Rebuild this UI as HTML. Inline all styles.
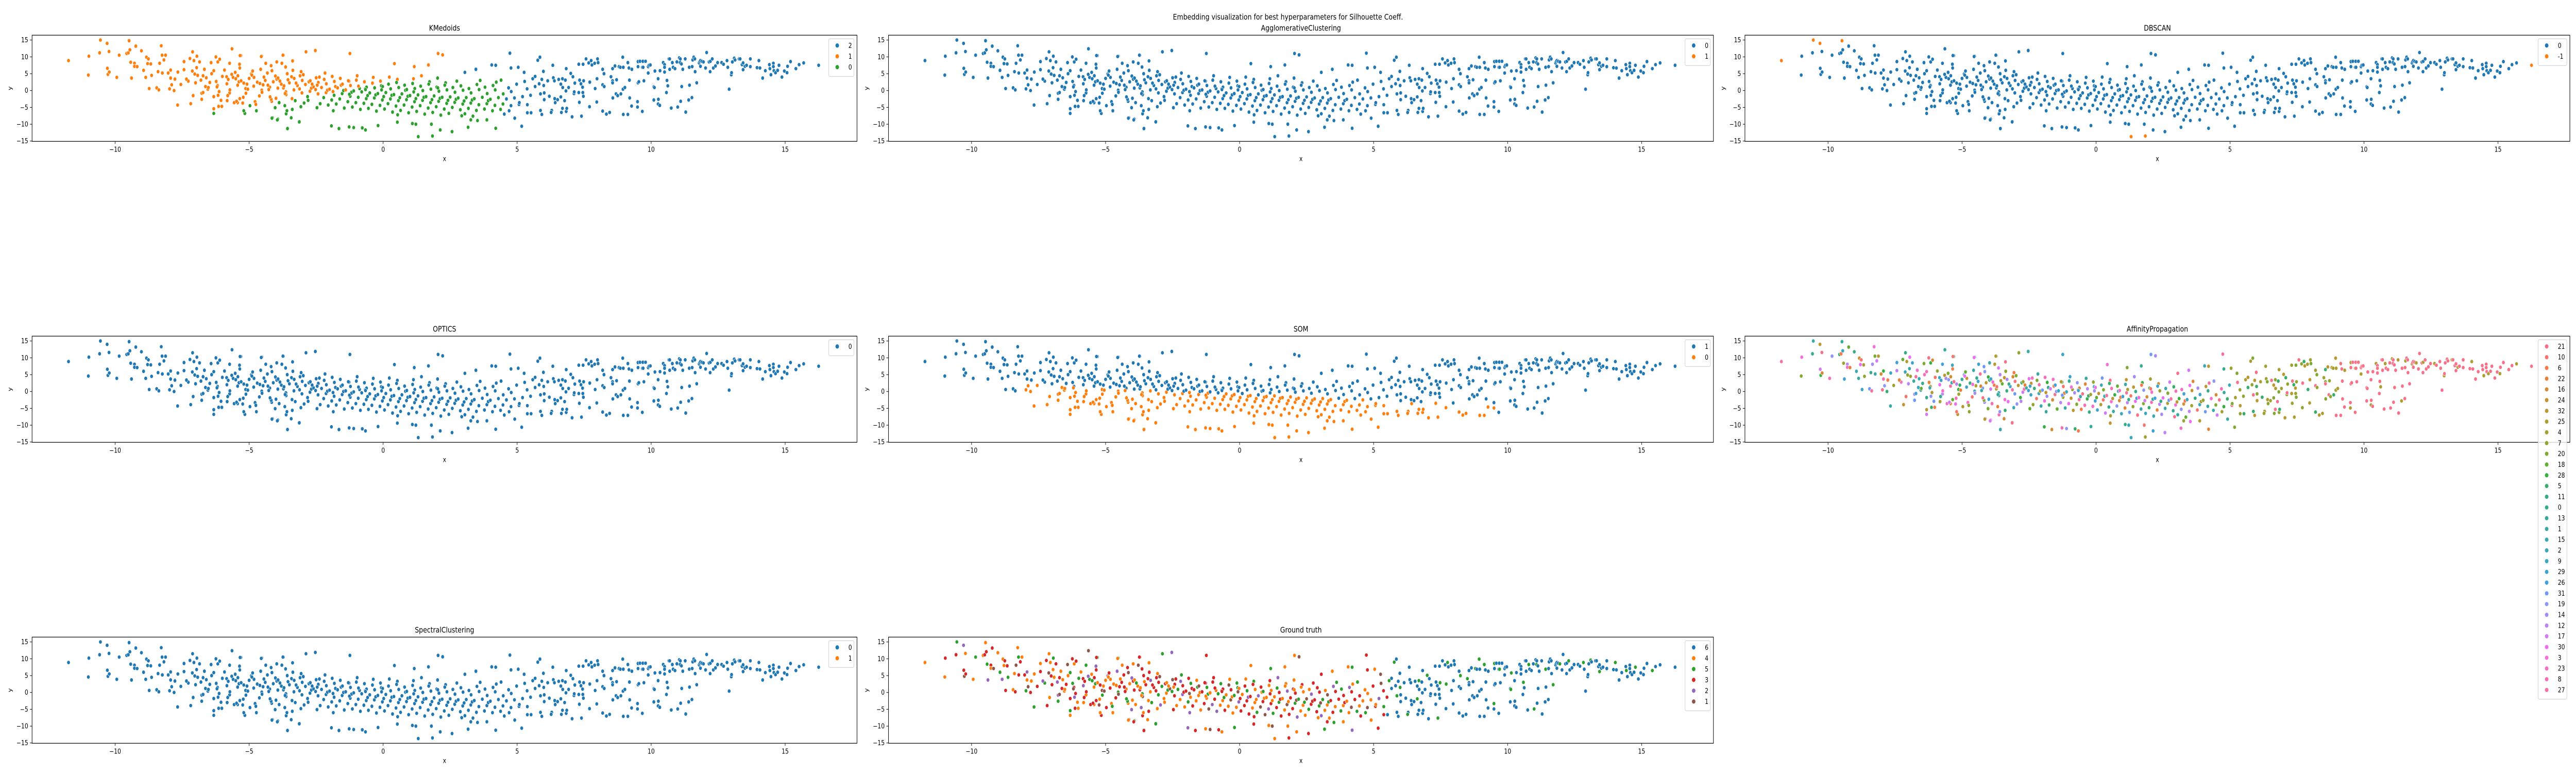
<!DOCTYPE html>
<html><head><meta charset="utf-8"><title>Embedding visualization</title>
<style>
html,body{margin:0;padding:0;background:#fff;overflow:hidden;width:100%;height:100%;}
svg{display:block;width:100vw;height:100vh;font-family:"DejaVu Sans","Liberation Sans",sans-serif;}
</style></head>
<body>
<svg id="fig" viewBox="0 0 6000 1500" preserveAspectRatio="none" xmlns="http://www.w3.org/2000/svg">
<rect width="6000" height="1500" fill="#fff"/>
<text x="3000" y="38" font-size="15" text-anchor="middle">Embedding visualization for best hyperparameters for Silhouette Coeff.</text>
</svg>
<script>
// ---- data ----
const pointsLeft = [[-11.74,8.9],[-10.98,10.2],[-11.0,4.6],[-10.58,11.2],[-10.55,15],[-10.3,14],[-10.29,6.6],[-10.23,11.6],[-10.27,4.8],[-10.22,5.5],[-9.94,3.9],[-9.85,10.5],[-9.57,11],[-9.51,11.2],[-9.48,14.8],[-9.45,12.1],[-9.42,8.4],[-9.39,3.7],[-9.28,8.1],[-9.28,7.2],[-9.18,7.1],[-9.23,13.2],[-9.02,11.8],[-8.94,6],[-8.83,9.9],[-8.76,9.4],[-8.79,8],[-8.67,7.9],[-8.64,4.5],[-8.86,3.9],[-8.73,0.6],[-8.45,0.8],[-8.34,8.1],[-8.37,0.2],[-8.28,13.3],[-8.25,10.5],[-8.4,5.6],[-8.24,5.2],[-8.12,10.5],[-8.18,9.1],[-7.97,0.5],[-7.93,6.1],[-8.02,5.2],[-7.93,3.7],[-7.89,1.7],[-7.8,0],[-7.77,3.4],[-7.67,-4.3],[-7.66,5.5],[-7.55,1.8],[-7.43,8.6],[-7.43,6.2],[-7.27,2.8],[-7.34,3.4],[-7.21,9.5],[-7.11,11.5],[-7.12,5.8],[-7.18,-3.9],[-7.09,-1.5],[-6.95,10.2],[-7.06,8.9],[-7.03,4.9],[-6.96,6.8],[-6.85,8.5],[-6.77,-2.6],[-6.77,-0.8],[-6.72,4.4],[-6.67,6.3],[-6.42,8.3],[-6.47,2.4],[-6.54,0.4],[-6.32,-5.4],[-6.32,-6.8],[-6.24,10],[-6.17,8.5],[-6.1,9.3],[-6.32,5.9],[-6.16,-1.4],[-6.14,-4.7],[-6.02,-4.7],[-5.64,12.4],[-5.84,4.1],[-5.82,-3],[-5.73,8.1],[-5.73,-0.7],[-5.56,-3.6],[-5.43,-3.6],[-5.35,-2.4],[-5.31,10.4],[-5.36,7.8],[-5.16,-6.8],[-5.2,-6],[-5.24,-3.7],[-4.97,-4.5],[-4.73,-6],[-4.53,10.2],[-4.38,8.1],[-4.18,7.4],[-4.16,-3.2],[-4.13,-8.1],[-3.93,-8.5],[-4.03,-5.1],[-3.72,10.5],[-3.97,8.5],[-3.78,8.1],[-3.64,7],[-3.38,8.8],[-3.56,-11.2],[-3.43,-8.1],[-3.62,-6.9],[-3.59,-6],[-3.39,-5.6],[-3.12,-9.2]];
const pointsCore = [[-6.8,3.1],[-6.63,1.2],[-6.92,4.5],[-6.72,-0.6],[-7.0,2.3],[-6.4,5.0],[-6.23,2.7],[-6.52,0.9],[-6.32,-1.8],[-6.6,3.8],[-6.18,1.5],[-6.0,4.2],[-5.83,2.0],[-6.12,-0.3],[-5.92,6.1],[-6.2,1.1],[-5.78,3.3],[-6.05,-2.9],[-5.6,3.9],[-5.43,1.6],[-5.72,0.2],[-5.52,5.4],[-5.8,-1.5],[-5.38,2.6],[-5.65,4.8],[-5.47,-3.2],[-5.3,2.9],[-5.13,0.6],[-5.42,4.4],[-5.22,-2.0],[-5.5,3.5],[-5.08,1.9],[-5.35,6.7],[-5.0,3.6],[-4.83,1.3],[-5.12,-0.8],[-4.92,4.9],[-5.2,2.2],[-4.78,-3.3],[-5.05,0.4],[-4.87,5.8],[-4.7,2.5],[-4.53,0.1],[-4.82,3.9],[-4.62,-1.6],[-4.9,4.6],[-4.48,1.7],[-4.75,-4.1],[-4.57,6.3],[-4.4,3.0],[-4.23,1.0],[-4.52,-0.5],[-4.32,5.2],[-4.6,2.1],[-4.18,-2.6],[-4.45,4.0],[-4.27,0.3],[-4.1,2.6],[-3.93,0.7],[-4.22,-1.9],[-4.02,4.3],[-4.3,1.6],[-3.88,-3.6],[-4.15,5.9],[-3.97,3.4],[-3.8,1.9],[-3.63,-0.4],[-3.92,3.7],[-3.72,0.8],[-4.0,-2.3],[-3.58,5.0],[-3.85,2.8],[-3.67,-4.5],[-3.5,2.3],[-3.33,0.2],[-3.62,-1.2],[-3.42,4.1],[-3.7,1.4],[-3.28,-3.0],[-3.55,3.2],[-3.37,6.0],[-3.66,-0.9],[-3.2,1.5],[-3.03,-0.7],[-3.32,3.6],[-3.12,0.5],[-3.4,-2.4],[-2.98,4.7],[-3.25,2.2],[-3.07,-4.8],[-2.9,1.8],[-2.73,-0.2],[-3.02,3.0],[-2.82,-1.8],[-3.1,4.4],[-2.68,0.7],[-2.95,-3.7],[-2.77,2.6],[-3.06,5.6],[-2.6,1.1],[-2.43,-1.0],[-2.72,2.9],[-2.52,0.3],[-2.8,-2.9],[-2.38,4.0],[-2.65,1.9],[-2.47,-5.1],[-2.3,0.9],[-2.13,-0.6],[-2.42,2.4],[-2.22,-2.1],[-2.5,3.8],[-2.08,0.1],[-2.35,-3.9],[-2.17,5.2],[-2.46,1.6],[-2.0,0.4],[-1.83,-1.4],[-2.12,2.0],[-1.92,-2.8],[-2.2,3.3],[-1.78,1.2],[-2.05,-4.3],[-1.87,-0.3],[-1.7,0.8],[-1.53,-0.9],[-1.82,2.7],[-1.62,-2.5],[-1.9,4.2],[-1.48,0.0],[-1.75,-4.0],[-1.57,1.6],[-1.86,-6.0],[-1.4,0.2],[-1.23,-1.7],[-1.52,1.9],[-1.32,-3.3],[-1.6,3.6],[-1.18,-0.5],[-1.45,-5.2],[-1.27,2.8],[-1.1,-0.1],[-0.93,-2.0],[-1.22,1.5],[-1.02,-3.6],[-1.3,2.9],[-0.88,0.6],[-1.15,-4.9],[-0.97,4.4],[-1.26,-1.1],[-0.8,-0.4],[-0.63,-2.4],[-0.92,1.3],[-0.72,-3.8],[-1.0,3.1],[-0.58,-1.5],[-0.85,-5.6],[-0.67,0.5],[-0.5,-0.7],[-0.33,-2.2],[-0.62,1.0],[-0.42,-4.1],[-0.7,2.6],[-0.28,-1.3],[-0.55,-5.3],[-0.37,3.9],[-0.66,0.3],[-0.2,-0.9],[-0.03,-2.8],[-0.32,0.8],[-0.12,-4.4],[-0.4,2.2],[0.02,-1.8],[-0.25,-6.1],[-0.07,1.4],[0.1,-0.6],[0.27,-2.5],[-0.02,1.2],[0.18,-3.9],[-0.1,2.8],[0.32,-1.4],[0.05,-5.5],[0.23,4.0],[-0.06,0.2],[0.4,-1.2],[0.57,-3.0],[0.28,0.5],[0.48,-4.6],[0.2,1.9],[0.62,-2.1],[0.35,-6.4],[0.53,3.3],[0.7,-1.0],[0.87,-2.7],[0.58,0.9],[0.78,-4.3],[0.5,2.4],[0.92,-1.7],[0.65,-5.9],[0.83,0.1],[0.54,-7.2],[1.0,-1.5],[1.17,-3.3],[0.88,0.3],[1.08,-4.9],[0.8,1.6],[1.22,-2.4],[0.95,-6.6],[1.13,3.5],[1.3,-1.3],[1.47,-2.9],[1.18,0.6],[1.38,-4.5],[1.1,2.1],[1.52,-2.0],[1.25,-6.2],[1.43,4.4],[1.14,-0.4],[1.6,-1.8],[1.77,-3.6],[1.48,0.0],[1.68,-5.2],[1.4,1.3],[1.82,-2.7],[1.55,-7.0],[1.73,2.6],[1.9,-1.6],[2.07,-3.2],[1.78,0.4],[1.98,-4.8],[1.7,1.9],[2.12,-2.3],[1.85,-6.5],[2.03,3.7],[2.2,-2.0],[2.37,-3.8],[2.08,-0.2],[2.28,-5.5],[2.0,1.0],[2.42,-2.9],[2.15,-7.3],[2.33,2.3],[2.04,0.8],[2.5,-1.9],[2.67,-3.5],[2.38,0.2],[2.58,-5.0],[2.3,1.6],[2.72,-2.6],[2.45,-6.8],[2.8,-2.2],[2.97,-4.0],[2.68,-0.5],[2.88,-5.7],[2.6,0.9],[3.02,-3.1],[2.75,2.8],[2.93,-7.5],[3.1,-2.1],[3.27,-3.7],[2.98,0.1],[3.18,-5.3],[2.9,1.4],[3.32,-2.8],[3.05,-6.9],[3.4,-2.4],[3.57,-4.2],[3.28,-0.7],[3.48,-5.9],[3.2,0.6],[3.62,3.0],[3.35,-7.6],[3.7,-2.0],[3.87,-3.9],[3.58,0.3],[3.78,-5.5],[3.5,1.8],[3.92,-3.0],[4.0,-2.6],[4.17,-4.4],[3.88,-0.9],[4.08,-6.0],[3.8,1.0],[4.22,2.5],[4.3,-2.1],[4.47,-4.0],[4.18,0.2],[4.38,-5.6],[4.1,1.5],[4.52,-7.0],[4.6,-2.5],[4.77,-4.5],[4.48,-1.0],[4.68,0.8],[4.4,3.1],[4.9,-2.2],[5.07,-4.1],[4.78,-0.3],[4.98,1.9],[4.7,-6.0],[5.2,-1.8],[5.37,0.5],[5.08,-3.6],[5.28,2.7],[5.5,-1.4],[5.67,1.2],[5.38,-4.2],[5.58,3.5]];
const pointsOutlier = [[-5.34,10.4],[-4.55,10.1],[-3.74,10.5],[-2.88,11.5],[-2.53,11.9],[-1.24,11],[2.05,11],[2.22,10.6],[4.73,11.1],[0.42,8],[1.16,7.1],[1.69,7.6],[-3.57,-11.3],[-4.15,-8.2],[-3.95,-8.7],[-3.13,-9.3],[-1.93,-10.5],[-1.65,-11.3],[-1.27,-10.8],[-1.1,-11.0],[-0.78,-11.1],[-0.66,-11.7],[-0.19,-10.4],[1.31,-13.7],[1.84,-13.5],[2.13,-11.7],[2.57,-12.2],[3.17,-10.9],[4.2,-11.2],[5.17,-10.6],[1.09,-9.8],[1.22,-10],[0.53,-9.4],[1.8,-10],[3.52,-8.9],[3.87,-8.7],[3.27,-8.7],[4.91,-8.2],[5.38,-6.6],[5.52,-6.6],[5.67,4.2],[5.77,9],[5.04,6.9],[5.26,5.4],[4.77,6.7],[4.05,7.6],[4.2,7.5],[3.46,6.3],[3.05,5.4]];
const pointsRight = [[6.33,7.5],[5.85,9.9],[5.98,5.7],[5.82,2],[5.99,1.5],[5.92,3.3],[6.14,2.9],[6.35,3.8],[6.39,2.9],[6.55,3.3],[6.69,3.5],[6.8,3.1],[6.63,1.9],[6.7,0.9],[6.92,0.9],[6.82,-0.1],[5.87,-1],[6.01,-0.7],[6.2,-1.7],[6.01,-2.7],[6.4,-2.4],[6.51,-2.7],[6.63,-1.9],[6.77,-3.0],[6.42,-3.6],[5.87,-5.9],[5.92,-7.1],[6.29,-5.9],[6.27,-6.5],[6.65,-6.5],[6.69,-5.3],[6.83,-6.2],[6.85,-5.3],[7.05,-7.8],[7.4,-7.6],[7.32,-3.5],[7.12,-0.9],[7.13,-0.4],[7.15,2.2],[7.08,4.1],[7.0,5.1],[6.83,6.5],[7.3,7.8],[7.46,7.8],[7.57,9.4],[7.67,8.2],[7.76,8.9],[7.79,7.6],[7.89,8.1],[8.0,9.4],[8.02,8.3],[7.33,3.1],[7.48,2.9],[7.38,2],[7.44,1],[7.3,-0.6],[7.45,-0.6],[7.47,-1.7],[7.71,2.5],[7.7,-4.8],[7.91,0.6],[7.98,3.5],[7.97,-3.4],[8.19,6.3],[8.24,5],[8.19,1.7],[8.25,1.2],[8.19,-6.1],[8.33,-7],[8.45,-6.5],[8.5,4.1],[8.56,2.9],[8.56,2.3],[8.71,3.2],[8.56,6.5],[8.65,7.3],[8.8,7.1],[8.85,6.9],[8.57,-2.2],[8.69,-1],[8.75,-1.5],[8.87,-1.0],[8.94,9.9],[8.96,6.9],[8.95,0.4],[9.02,0.9],[8.96,-7.1],[9.13,-7.1],[9.13,8.3],[9.17,6.7],[9.28,6.3],[9.19,3.1],[9.2,-2.2],[9.27,-4.6],[9.49,-3.3],[9.49,-4.9],[9.67,-6.2],[9.51,2.3],[9.54,2.6],[9.73,2.9],[9.51,8.6],[9.51,7.1],[9.58,8.7],[9.69,8.7],[9.79,8.7],[9.67,6.9],[9.7,6.9],[9.89,7.1],[9.92,7.5],[9.97,7.6],[9.89,5.2],[10.1,1.1],[10.12,0.9],[10.1,-2.8],[10.27,-2.6],[10.26,-4],[10.32,-4.4],[10.26,3.5],[10.14,5.8],[10.33,5.9],[10.45,8.3],[10.5,7.7],[10.5,6.9],[10.5,5.5],[10.59,3],[10.62,1.4],[10.57,-0.6],[10.75,-5.2],[10.66,9.4],[10.69,9.4],[10.79,8.3],[10.82,6.9],[10.69,6.3],[10.89,6.5],[10.96,8.5],[11.05,9.7],[11.08,8.3],[11.09,9.4],[11.13,7.9],[11.18,6.3],[11.27,9.4],[11.14,1.2],[10.99,-4.9],[11.1,-3.2],[11.29,-6.4],[11.4,-2.8],[11.43,1.6],[11.52,-2.1],[11.42,6.9],[11.53,7.1],[11.55,9.1],[11.59,9.9],[11.63,9.4],[11.64,5.6],[11.7,2.3],[11.79,8.2],[11.81,8.6],[11.84,8.9],[11.89,8.7],[11.84,7.2],[11.95,8.5],[12.03,6.7],[12.07,11.3],[12.16,8.5],[12.2,5.6],[12.21,8.7],[12.28,9.4],[12.32,6.7],[12.4,7.3],[12.48,8.3],[12.63,8.3],[12.7,7.8],[12.83,8.9],[12.86,6.9],[12.91,0.4],[12.99,4.7],[13.0,5.3],[13.03,8.5],[13.1,9.6],[13.13,9.1],[13.28,9.4],[13.32,9.4],[13.39,7.7],[13.43,8.2],[13.43,6.2],[13.5,7.2],[13.56,7.5],[13.7,9.4],[13.7,7.1],[13.95,6.8],[14.02,8.9],[14.06,6.7],[14.16,3.7],[14.26,5.9],[14.41,7.7],[14.47,4.7],[14.43,6.5],[14.56,8.1],[14.56,7.1],[14.58,5.9],[14.64,5.3],[14.72,6.0],[14.77,7.5],[14.88,4.0],[14.97,5.8],[15.07,5.3],[15.09,7.2],[15.2,8.6],[15.4,6.5],[15.52,7.7],[15.69,8.2],[16.25,7.5]];

const xTicks = [-10,-5,0,5,10,15];
const yTicks = [-15,-10,-5,0,5,10,15];
const xDomain = [-13.1,17.68];
const yDomain = [-15.09,16.44];

const titles = ["KMedoids","AgglomerativeClustering","DBSCAN","OPTICS","SOM","AffinityPropagation","SpectralClustering","Ground truth"];
const legendKMedoids = ["2","1","0"];
const legendAgglo = ["0","1"];
const legendDbscan = ["0","-1"];
const legendOptics = ["0"];
const legendSom = ["1","0"];
const legendAffinity = ["21","10","6","22","16","24","32","25","4","7","20","18","28","5","11","0","13","1","15","2","9","29","26","31","19","14","12","17","30","3","23","8","27"];
const legendSpectral = ["0","1"];
const legendTruth = ["6","4","5","3","2","1"];

const tab10 = ["#1f77b4","#ff7f0e","#2ca02c","#d62728","#9467bd","#8c564b"];
const husl = ["#f77189","#f7756d","#f67a4a","#e6823a","#d58a34","#c79132","#bb9832","#ae9d31","#a1a131","#93a531","#80aa31","#62ae31","#33b03f","#34ae6a","#35ad80","#36ac8f","#37ab9b","#38aaa5","#39a9ae","#3aa8b7","#3ba6c1","#3ca4cc","#3ea1da","#6e9af4","#8e97f5","#a48cf4","#bb83f4","#d57af4","#ee6ef0","#f56fd9","#f56fc6","#f66fb4","#f670a1"];
const truthCycle = [1,3,1,3,2,4,3,1,5,3,1,2];
const affCore = [32,29,10,15,18,6,27,0,12,4,31,24,13,2,16,20,8,22,26,30,3,11,14,19,5,1,28,7,9,17,21,23,25];
const affMid = [7,8,10,0,9,13,6];

// ---- layout ----
const colLeft = [74.7,2069.5,4064.3];
const rowTop = [68.3,652.3,1236.3];
const AW = 1921.4, AH = 206;
const NS = "http://www.w3.org/2000/svg";
const svg = document.getElementById('fig');
function mk(tag, attrs, parent){const e=document.createElementNS(NS,tag);for(const k in attrs)e.setAttribute(k,attrs[k]);(parent||svg).appendChild(e);return e;}
function fmt(v){return v<0?"\u2212"+Math.abs(v):String(v);}

const allPoints = pointsLeft.concat(pointsCore, pointsOutlier, pointsRight);

function labelKM(p){const [x,y]=p; if(x>4.5||(x>2.5&&y>4))return 0; return y>1.3*x+2?1:2;}
function labelDb(p){const [x,y]=p; return (x<-11.5||y>13.5||y<-12.5||x>16)?1:0;}
function labelSom(p){const [x,y]=p; return (x>-8&&x<9.5&&y< -0.35*x-0.8)?1:0;}
function labelAff(p,i){const x=p[0]; if(x>9)return (i%5===0)?7:0; if(x>5)return affMid[i%affMid.length]; return affCore[i%affCore.length];}
function labelTruth(p,i){const x=p[0]; if(x>5.5)return (i%6===0)?2:0; return truthCycle[i%truthCycle.length];}

const panels = [
 {legend:legendKMedoids, pal:tab10, f:labelKM},
 {legend:legendAgglo, pal:tab10, f:()=>0},
 {legend:legendDbscan, pal:tab10, f:labelDb},
 {legend:legendOptics, pal:tab10, f:()=>0},
 {legend:legendSom, pal:tab10, f:labelSom},
 {legend:legendAffinity, pal:husl, f:labelAff},
 {legend:legendSpectral, pal:tab10, f:()=>0},
 {legend:legendTruth, pal:tab10, f:labelTruth}
];

panels.forEach((pn,k)=>{
  const L=colLeft[k%3], T=rowTop[Math.floor(k/3)];
  const sx=v=>L+(v-xDomain[0])/(xDomain[1]-xDomain[0])*AW;
  const sy=v=>T+(yDomain[1]-v)/(yDomain[1]-yDomain[0])*AH;
  const slug=titles[k].toLowerCase().replace(/\s+/g,'-');
  const g=mk('g',{});
  
  
  const t=mk('text',{x:L+AW/2,y:T-9,'font-size':15,'text-anchor':'middle'},g);
  t.textContent=titles[k];
  
  
  const pg=mk('g',{},g);
  
  
  allPoints.forEach((p,i)=>{
    const c=mk('circle',{cx:sx(p[0]).toFixed(1),cy:sy(p[1]).toFixed(1),r:3.8,fill:pn.pal[pn.f(p,i)],stroke:'#fff','stroke-width':0.7},pg);
    
    
  });
  const fr=mk('rect',{x:L,y:T,width:AW,height:AH,fill:'none',stroke:'#000','stroke-width':1.2},g);
  
  
  xTicks.forEach(v=>{
    const X=sx(v);
    mk('line',{x1:X,x2:X,y1:T+AH,y2:T+AH+5,stroke:'#000','stroke-width':1},g);
    const tt=mk('text',{x:X,y:T+AH+20,'font-size':13,'text-anchor':'middle'},g);
    tt.textContent=fmt(v);
    
    
  });
  yTicks.forEach(v=>{
    const Y=sy(v);
    mk('line',{x1:L-5,x2:L,y1:Y,y2:Y,stroke:'#000','stroke-width':1},g);
    const tt=mk('text',{x:L-9,y:Y+4.5,'font-size':13,'text-anchor':'end'},g);
    tt.textContent=fmt(v);
    
    
  });
  const xl=mk('text',{x:L+AW/2,y:T+AH+38,'font-size':13,'text-anchor':'middle'},g);
  xl.textContent='x';
  
  
  const yl=mk('text',{x:0,y:0,'font-size':13,'text-anchor':'middle',transform:`translate(${L-47},${T+AH/2}) rotate(-90)`},g);
  yl.textContent='y';
  
  
  const n=pn.legend.length;
  const maxLen=Math.max(...pn.legend.map(s=>s.length));
  const bw=maxLen>1?67:59;
  const bx=L+AW-7-bw, by=T+7, step=(n>10?20.83:21);
  const lg=mk('g',{},g);
  
  
  mk('rect',{x:bx,y:by,width:bw,height:n*step+10,rx:3,fill:'#fff','fill-opacity':0.8,stroke:'#ccc','stroke-width':1},lg);
  pn.legend.forEach((s,i)=>{
    const cy=by+13+i*step;
    const mc=mk('circle',{cx:bx+20,cy:cy,r:4.5,fill:pn.pal[i],stroke:'#fff','stroke-width':0.7},lg);
    
    
    const lt=mk('text',{x:bx+46,y:cy+4.5,'font-size':13},lg);
    lt.textContent=s;
    
    
  });
});
</script>
</body></html>
